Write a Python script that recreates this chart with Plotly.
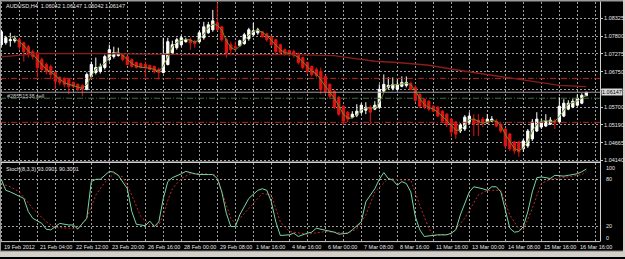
import plotly.graph_objects as go
import pandas as pd

# ---------------- data (AUDUSD H4) ----------------
bars = list(range(131))
opens = [1.07546,1.07604,1.07663,1.07663,1.07692,1.07604,1.07488,1.07342,1.07312,1.07108,
         1.06962,1.06904,1.06728,1.06584,1.06554,1.06524,1.06436,1.06378,1.06349,1.06232,
         1.06612,1.06728,1.06758,1.06874,1.07108,1.07196,1.07225,1.07254,1.07196,1.07108,
         1.07020,1.06991,1.06962,1.06933,1.06904,1.06816,1.06728,1.06962,1.07312,1.07458,
         1.07546,1.07634,1.07692,1.07634,1.07634,1.07750,1.07896,1.07984,1.08188,1.08072,
         1.07692,1.07546,1.07488,1.07517,1.07575,1.07721,1.07838,1.07896,1.07926,1.07867,
         1.07780,1.07692,1.07546,1.07400,1.07371,1.07342,1.07283,1.07166,1.07020,1.06904,
         1.06816,1.06758,1.06612,1.06378,1.06174,1.05999,1.05736,1.05560,1.05414,1.05473,
         1.05560,1.05619,1.05707,1.05649,1.05707,1.06174,1.06290,1.06261,1.06232,1.06320,
         1.06349,1.06407,1.06290,1.06086,1.05941,1.05882,1.05736,1.05707,1.05590,1.05502,
         1.05357,1.05268,1.05006,1.05065,1.05239,1.05357,1.05327,1.05357,1.05239,1.05298,
         1.05298,1.05210,1.05065,1.04918,1.04684,1.04684,1.04482,1.04568,1.04774,1.05006,
         1.05122,1.05152,1.05210,1.05298,1.05268,1.05444,1.05649,1.05707,1.05765,1.05824,
         1.06042]
highs = [1.07984,1.07809,1.07896,1.07809,1.07750,1.07634,1.07546,1.07400,1.07342,1.07166,
         1.07020,1.06962,1.06758,1.06612,1.06584,1.06554,1.06466,1.06407,1.06378,1.06728,
         1.07050,1.07166,1.06991,1.07254,1.07546,1.07488,1.07458,1.07283,1.07225,1.07137,
         1.07050,1.07020,1.07050,1.06962,1.06933,1.06874,1.07750,1.07750,1.07663,1.07750,
         1.07809,1.07750,1.07750,1.07692,1.07955,1.08218,1.08218,1.08568,1.08772,1.08101,
         1.07750,1.07634,1.07634,1.07692,1.07896,1.08042,1.08188,1.08042,1.07955,1.07896,
         1.07809,1.07721,1.07575,1.07429,1.07400,1.07400,1.07312,1.07196,1.07050,1.06933,
         1.06874,1.06874,1.06641,1.06407,1.06203,1.06028,1.05765,1.05590,1.05590,1.05794,
         1.05824,1.05853,1.05765,1.05882,1.06378,1.06670,1.06584,1.06584,1.06525,1.06612,
         1.06612,1.06466,1.06349,1.06115,1.05970,1.05911,1.05765,1.05736,1.05619,1.05531,
         1.05385,1.05298,1.05239,1.05473,1.05560,1.05502,1.05502,1.05414,1.05502,1.05444,
         1.05357,1.05239,1.05093,1.04947,1.04714,1.04714,1.04774,1.05065,1.05357,1.05560,
         1.05357,1.05502,1.05414,1.05357,1.05999,1.05941,1.05911,1.05970,1.06086,1.06115,
         1.06147]
lows = [1.07488,1.07546,1.07488,1.07604,1.07400,1.07050,1.07166,1.07108,1.06584,1.06728,
        1.06670,1.06524,1.06232,1.06349,1.06290,1.06086,1.06261,1.06174,1.06028,1.06203,
        1.06584,1.06670,1.06699,1.06816,1.07050,1.07137,1.07196,1.07050,1.06933,1.06874,
        1.06845,1.06845,1.06584,1.06787,1.06699,1.06524,1.06699,1.06933,1.07254,1.07400,
        1.07488,1.07604,1.07400,1.07458,1.07604,1.07692,1.07867,1.07926,1.07955,1.07634,
        1.07166,1.07254,1.07342,1.07488,1.07546,1.07663,1.07809,1.07838,1.07750,1.07634,
        1.07517,1.07283,1.07254,1.07225,1.07196,1.07166,1.06962,1.06816,1.06699,1.06612,
        1.06584,1.06086,1.06086,1.05941,1.05649,1.05444,1.05181,1.05268,1.05385,1.05414,
        1.05502,1.05502,1.05210,1.05619,1.05649,1.06144,1.06232,1.06203,1.06203,1.06290,
        1.06290,1.06203,1.05853,1.05678,1.05649,1.05590,1.05560,1.05414,1.05239,1.05122,
        1.04830,1.04774,1.04947,1.05006,1.05210,1.04860,1.04860,1.05122,1.05210,1.05268,
        1.05122,1.04947,1.04482,1.04422,1.04334,1.04246,1.04392,1.04510,1.04714,1.04976,
        1.05065,1.05122,1.05181,1.05065,1.05239,1.05414,1.05619,1.05678,1.05736,1.05795,
        1.06042]
closes = [1.07926,1.07750,1.07692,1.07721,1.07488,1.07342,1.07254,1.07196,1.06874,1.06816,
          1.06758,1.06670,1.06466,1.06436,1.06378,1.06320,1.06320,1.06232,1.06232,1.06670,
          1.06962,1.06874,1.06904,1.07196,1.07400,1.07312,1.07283,1.07108,1.06962,1.06904,
          1.06874,1.06874,1.06874,1.06816,1.06758,1.06728,1.07254,1.07634,1.07546,1.07692,
          1.07750,1.07692,1.07604,1.07575,1.07896,1.08072,1.08130,1.08247,1.07984,1.07692,
          1.07312,1.07400,1.07458,1.07663,1.07838,1.07984,1.07955,1.07984,1.07780,1.07692,
          1.07546,1.07342,1.07312,1.07283,1.07254,1.07225,1.07020,1.06874,1.06758,1.06670,
          1.06641,1.06232,1.06174,1.06028,1.05707,1.05502,1.05298,1.05357,1.05502,1.05590,
          1.05765,1.05707,1.05560,1.05765,1.06232,1.06378,1.06349,1.06378,1.06378,1.06436,
          1.06436,1.06232,1.05911,1.05736,1.05707,1.05649,1.05590,1.05444,1.05298,1.05210,
          1.04976,1.04918,1.05181,1.05414,1.05444,1.05210,1.05239,1.05239,1.05357,1.05357,
          1.05152,1.05006,1.04568,1.04482,1.04422,1.04392,1.04714,1.05006,1.05268,1.05357,
          1.05268,1.05298,1.05327,1.05239,1.05736,1.05824,1.05824,1.05882,1.05970,1.06057,
          1.06147]

# long moving average
ma_long_bars = [0, 8, 22, 44, 65, 74, 77, 83, 88, 95, 102, 110, 117, 124, 130]
ma_long_vals = [1.07187,1.07283,1.07283,1.07254,1.07254,1.07225,1.07166,1.07058,
                1.07020,1.06942,1.06787,1.06620,1.06474,1.06349,1.06311]

# horizontal order / level lines
sl_level = 1.06554
tp_level = 1.05261
order_level = 1.05970
bid_level = 1.06147

# Stochastic(8,3,3)
k_bars = [0,1,2,4,5,6,7,9,10,11,13,15,16,17,19,20,21,22,24,25,
          26,28,29,30,31,32,33,34,35,36,37,38,40,41,43,44,46,47,48,49,
          50,51,52,53,55,57,58,59,60,61,62,64,65,66,68,69,70,72,74,75,
          77,78,80,81,83,84,85,86,87,88,89,90,91,92,93,94,96,97,99,100,
          101,102,104,105,107,108,109,110,111,112,113,114,115,116,117,118,119,120,122,123,
          125,126,128,129,130]
k_vals = [80,66,64,58,55.7,39,30.5,24,16.6,15.8,24,22,22,17,30.5,77,80,80,90,89,
          85,68,39,23,22,21,27,20,26,55.7,77,82,87,90,87,86,86,86,81,64,
          37,20,20,35,55.7,66,68,66,51.5,26,8.7,9.5,11.6,7.4,11.6,12.9,17.9,15,12.9,10.3,
          11.6,15.8,26,51.5,68,80,88.5,81,79,72.5,77,74.6,64,32.6,15.8,7.4,8.7,9.5,9.5,11.6,
          15.8,34.7,64,70.5,68,66,70.5,70.5,64,39,17.9,12.9,13.7,20,39,64,82,83,81,85,
          84,85,87,89.6,93.09]
d_bars = [0,2,4,7,10,12,15,17,19,21,23,25,27,29,31,33,35,36,37,38,
          40,42,45,48,49,51,52,55,58,60,62,64,68,72,77,79,81,83,86,89,
          91,93,95,96,100,103,106,108,111,113,115,116,118,120,122,126,129,130]
d_vals = [74.6,70.5,64,43,26,18.8,17.9,17,30.5,60,76,87,83,60,32.6,22,22,34.7,53,68,
          81,87,87,85,64,30.5,24,43,62,60,26,13.7,10.3,13.7,11.6,17,34.7,64,81,79,
          79,47,17.9,8.7,10.3,30.5,60,66,66,34.7,17,15.8,43,74.6,80,83,86,90.30]

price_ticks = [1.08325, 1.07800, 1.07275, 1.06750, 1.06225, 1.05700, 1.05190, 1.04665, 1.04140]
price_tick_text = ["1.08325", "1.07800", "1.07275", "1.06750", "", "1.05700", "1.05190", "1.04665", "1.04140"]

time_label_bars = [0, 8, 16, 24, 32, 40, 48, 56, 64, 72, 80, 88, 96, 104, 112, 120, 128]
time_labels = ["19 Feb 2012", "21 Feb 04:00", "22 Feb 12:00", "23 Feb 20:00", "26 Feb 16:00",
               "28 Feb 00:00", "29 Feb 08:00", "1 Mar 16:00", "4 Mar 16:00", "6 Mar 00:00",
               "7 Mar 08:00", "8 Mar 16:00", "11 Mar 16:00", "13 Mar 00:00", "14 Mar 08:00",
               "15 Mar 16:00", "16 Mar 16:00"]

stoch_levels = [100, 80, 20, 0]

# ---------------- figure ----------------
W, H = 625, 259
FONT = "Liberation Sans"
FS = 5.5
TXT = "#e6e6e6"
GRID = "#a0a0a0"


def yp(p):
    return 1 - p / H


fast_ma = pd.Series(closes).rolling(3).mean()
x_end = 133.04
x_start = -0.29

fig = go.Figure()

# level lines (drawn under candles)
for lvl, col, dash in [(sl_level, "#b82222", "6px,2px,1px,2px"),
                       (tp_level, "#b82222", "6px,2px,1px,2px"),
                       (order_level, "#3f6f3f", "6px,2px,1px,2px"),
                       (bid_level, "#9a9a9a", "solid")]:
    fig.add_trace(go.Scatter(x=[x_start, x_end], y=[lvl, lvl], mode="lines",
                             line=dict(color=col, width=1, dash=dash),
                             hoverinfo="skip", xaxis="x", yaxis="y"))

fig.add_trace(go.Candlestick(
    x=bars, open=opens, high=highs, low=lows, close=closes,
    increasing=dict(line=dict(color="#ffffff", width=1), fillcolor="#ffffff"),
    decreasing=dict(line=dict(color="#e41414", width=1), fillcolor="#e41414"),
    whiskerwidth=0, hoverinfo="skip", xaxis="x", yaxis="y"))

fig.add_trace(go.Scatter(x=bars, y=fast_ma, mode="lines",
                         line=dict(color="#6b8e23", width=1), hoverinfo="skip",
                         xaxis="x", yaxis="y"))
fig.add_trace(go.Scatter(x=ma_long_bars, y=ma_long_vals, mode="lines",
                         line=dict(color="#8b1c1c", width=1.4), hoverinfo="skip",
                         xaxis="x", yaxis="y"))

# stochastic
fig.add_trace(go.Scatter(x=d_bars, y=d_vals, mode="lines",
                         line=dict(color="#c02828", width=1, dash="2px,2px"),
                         hoverinfo="skip", xaxis="x2", yaxis="y2"))
fig.add_trace(go.Scatter(x=k_bars, y=k_vals, mode="lines",
                         line=dict(color="#7ad6a4", width=1), hoverinfo="skip",
                         xaxis="x2", yaxis="y2"))

xdom = [0, 600 / W]
common_x = dict(domain=xdom, range=[x_start, x_end], tickvals=list(range(0, 133, 4)),
                showticklabels=False, showgrid=True, gridcolor=GRID, griddash="2px,2px",
                gridwidth=1, zeroline=False, showline=False, ticks="",
                rangeslider=dict(visible=False))

fig.update_layout(
    width=W, height=H, margin=dict(l=0, r=0, t=0, b=0),
    paper_bgcolor="#000000", plot_bgcolor="#000000", showlegend=False,
    boxgap=0.5, boxgroupgap=0,
    xaxis=dict(**common_x, anchor="y"),
    xaxis2=dict(**common_x, anchor="y2"),
    yaxis=dict(domain=[yp(163), yp(2)], range=[1.04102, 1.08802], side="right",
               anchor="x", tickvals=price_ticks, ticktext=price_tick_text,
               tickfont=dict(family=FONT, size=FS, color=TXT), ticks="outside",
               ticklen=2, tickcolor="#c8c8c8", showgrid=True, gridcolor=GRID,
               griddash="2px,2px", zeroline=False, showline=False),
    yaxis2=dict(domain=[yp(243.5), yp(164)], range=[0.9, 101], side="right",
                anchor="x2", tickvals=[20, 80], showticklabels=False, ticks="",
                showgrid=True, gridcolor=GRID, griddash="2px,2px", zeroline=False,
                showline=False),
)

shapes = []
# window separators / axis lines
shapes.append(dict(type="line", xref="paper", yref="paper", x0=0, x1=600 / W,
                   y0=yp(163.5), y1=yp(163.5), line=dict(color="#d0d0d0", width=1.5)))
shapes.append(dict(type="line", xref="paper", yref="paper", x0=0, x1=600 / W,
                   y0=yp(243.5), y1=yp(243.5), line=dict(color="#d0d0d0", width=1)))
shapes.append(dict(type="line", xref="paper", yref="paper", x0=600.5 / W, x1=600.5 / W,
                   y0=yp(243.5), y1=yp(1.5), line=dict(color="#d0d0d0", width=1)))
# outer frame
shapes.append(dict(type="rect", xref="paper", yref="paper", x0=0, x1=1, y0=yp(1.5), y1=1,
                   fillcolor="#9a9a9a", line=dict(width=0), layer="below"))
shapes.append(dict(type="rect", xref="paper", yref="paper", x0=0, x1=1 / W, y0=0, y1=1,
                   fillcolor="#9a9a9a", line=dict(width=0)))
shapes.append(dict(type="rect", xref="paper", yref="paper", x0=623 / W, x1=1, y0=0, y1=1,
                   fillcolor="#d4d0c8", line=dict(width=0), layer="below"))
shapes.append(dict(type="rect", xref="paper", yref="paper", x0=0, x1=1, y0=0, y1=yp(253),
                   fillcolor="#d4d0c8", line=dict(width=0)))
shapes.append(dict(type="line", xref="paper", yref="paper", x0=0, x1=623 / W,
                   y0=yp(253), y1=yp(253), line=dict(color="#808080", width=1)))
fig.update_layout(shapes=shapes)

ann = []
ann.append(dict(text="AUDUSD,H4  1.06042 1.06147 1.06042 1.06147", xref="paper", yref="paper",
                x=4 / W, y=yp(6.3), xanchor="left", yanchor="middle", showarrow=False,
                font=dict(family=FONT, size=FS, color=TXT)))
ann.append(dict(text="#28551538 sell", xref="paper", yref="paper",
                x=5 / W, y=yp(96.7), xanchor="left", yanchor="middle", showarrow=False,
                font=dict(family=FONT, size=FS, color="#c8c8c8")))
ann.append(dict(text="Stoch(8,3,3) 93.0901 90.3001", xref="paper", yref="paper",
                x=4 / W, y=yp(170.3), xanchor="left", yanchor="middle", showarrow=False,
                font=dict(family=FONT, size=FS, color=TXT)))
ann.append(dict(text=f"{bid_level:.5f}", xref="paper", yref="y", x=601 / W, y=bid_level,
                xanchor="left", yanchor="middle", showarrow=False, bgcolor="#d8d8d8",
                borderpad=0, font=dict(family=FONT, size=FS, color="#000000")))
for b, t in zip(time_label_bars, time_labels):
    ann.append(dict(text=t, xref="x2", yref="paper", x=b, y=yp(249), xanchor="left",
                    yanchor="middle", xshift=1, showarrow=False,
                    font=dict(family=FONT, size=FS, color=TXT)))
stoch_label_y = [169.3, 180.7, 227.7, 240]
for v, py in zip(stoch_levels, stoch_label_y):
    ann.append(dict(text=str(v), xref="paper", yref="paper", x=604 / W, y=yp(py),
                    xanchor="left", yanchor="middle", showarrow=False,
                    font=dict(family=FONT, size=FS, color=TXT)))
fig.update_layout(annotations=ann)

fig.write_html("out.html")
